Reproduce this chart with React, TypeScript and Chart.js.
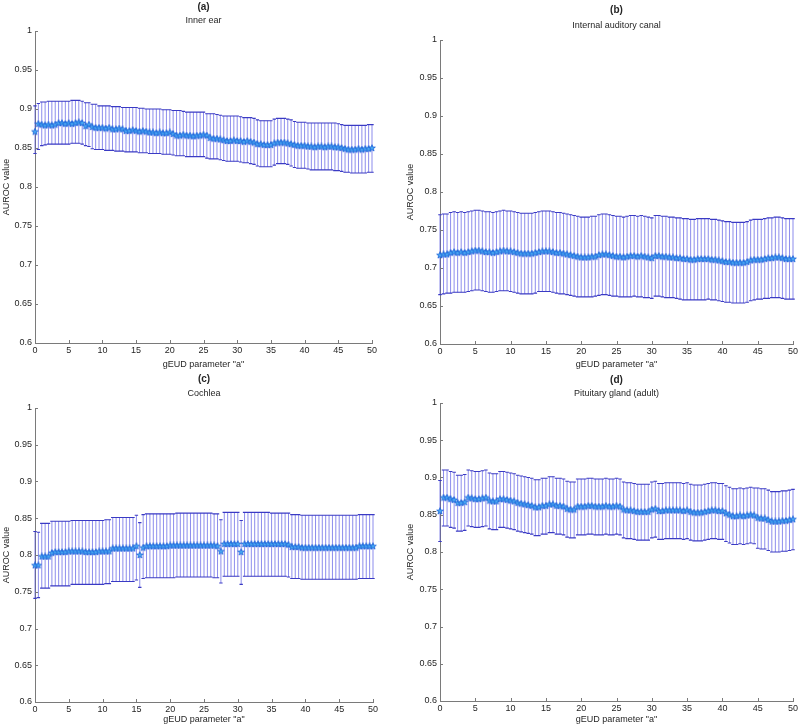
import React, { useEffect, useRef } from "react";
import { Chart, registerables } from "chart.js";

Chart.register(...registerables);

const FONT = "'Liberation Sans', Arial, Helvetica, sans-serif";
const TEXT = "#262626";
const AXIS = "#7a7a7a";
const BAR_COLOR = "rgba(70,70,225,0.62)";
const CAP_COLOR = "#3a3ac4";

// gEUD parameter "a"
const gEUD = [
  0, 0.5, 1, 1.5, 2, 2.5, 3, 3.5, 4, 4.5,
  5, 5.5, 6, 6.5, 7, 7.5, 8, 8.5, 9, 9.5,
  10, 10.5, 11, 11.5, 12, 12.5, 13, 13.5, 14, 14.5,
  15, 15.5, 16, 16.5, 17, 17.5, 18, 18.5, 19, 19.5,
  20, 20.5, 21, 21.5, 22, 22.5, 23, 23.5, 24, 24.5,
  25, 25.5, 26, 26.5, 27, 27.5, 28, 28.5, 29, 29.5,
  30, 30.5, 31, 31.5, 32, 32.5, 33, 33.5, 34, 34.5,
  35, 35.5, 36, 36.5, 37, 37.5, 38, 38.5, 39, 39.5,
  40, 40.5, 41, 41.5, 42, 42.5, 43, 43.5, 44, 44.5,
  45, 45.5, 46, 46.5, 47, 47.5, 48, 48.5, 49, 49.5,
  50,
];
const xTicks = [0, 5, 10, 15, 20, 25, 30, 35, 40, 45, 50];
const yTicks = [0.6, 0.65, 0.7, 0.75, 0.8, 0.85, 0.9, 0.95, 1];

// (a) Inner ear
const innerEarMean = [
  0.871, 0.881, 0.880, 0.879, 0.880, 0.879, 0.880, 0.882, 0.882, 0.881,
  0.882, 0.881, 0.882, 0.883, 0.882, 0.878, 0.880, 0.877, 0.876, 0.876,
  0.876, 0.875, 0.876, 0.874, 0.874, 0.875, 0.874, 0.872, 0.872, 0.873,
  0.872, 0.871, 0.872, 0.871, 0.870, 0.870, 0.869, 0.870, 0.869, 0.869,
  0.870, 0.868, 0.866, 0.866, 0.867, 0.866, 0.866, 0.865, 0.866, 0.866,
  0.867, 0.866, 0.863, 0.862, 0.862, 0.861, 0.860, 0.859, 0.859, 0.860,
  0.859, 0.859, 0.858, 0.859, 0.858, 0.857, 0.855, 0.855, 0.854, 0.854,
  0.854, 0.856, 0.857, 0.857, 0.857, 0.856, 0.855, 0.854, 0.853, 0.853,
  0.853, 0.852, 0.852, 0.851, 0.852, 0.852, 0.851, 0.852, 0.852, 0.851,
  0.851, 0.850, 0.849, 0.848, 0.848, 0.848, 0.849, 0.848, 0.849, 0.849,
  0.850,
];
const innerEarUpper = [
  0.904, 0.907, 0.909, 0.909, 0.910, 0.910, 0.910, 0.910, 0.910, 0.910,
  0.910, 0.911, 0.911, 0.911, 0.910, 0.908, 0.908, 0.906, 0.906, 0.904,
  0.904, 0.904, 0.904, 0.903, 0.903, 0.903, 0.902, 0.902, 0.902, 0.902,
  0.902, 0.901, 0.901, 0.900, 0.900, 0.900, 0.900, 0.900, 0.899, 0.899,
  0.899, 0.898, 0.898, 0.898, 0.897, 0.896, 0.896, 0.896, 0.896, 0.896,
  0.896, 0.894, 0.894, 0.894, 0.893, 0.892, 0.891, 0.891, 0.891, 0.891,
  0.891, 0.890, 0.889, 0.889, 0.889, 0.888, 0.886, 0.885, 0.885, 0.885,
  0.885, 0.887, 0.888, 0.888, 0.888, 0.887, 0.886, 0.884, 0.883, 0.883,
  0.883, 0.882, 0.882, 0.882, 0.882, 0.882, 0.882, 0.882, 0.882, 0.882,
  0.881, 0.880, 0.879, 0.879, 0.879, 0.879, 0.879, 0.879, 0.879, 0.880,
  0.880,
];
const innerEarLower = [
  0.843, 0.848, 0.853, 0.854, 0.855, 0.855, 0.855, 0.855, 0.855, 0.855,
  0.855, 0.856, 0.856, 0.856, 0.855, 0.853, 0.852, 0.849, 0.848, 0.848,
  0.848, 0.847, 0.847, 0.847, 0.846, 0.846, 0.846, 0.845, 0.845, 0.845,
  0.845, 0.844, 0.844, 0.844, 0.843, 0.843, 0.843, 0.843, 0.842, 0.842,
  0.842, 0.841, 0.840, 0.840, 0.840, 0.839, 0.839, 0.839, 0.839, 0.839,
  0.839, 0.837, 0.836, 0.836, 0.836, 0.835, 0.834, 0.833, 0.833, 0.833,
  0.833, 0.832, 0.831, 0.831, 0.830, 0.829, 0.827, 0.826, 0.826, 0.826,
  0.826, 0.828, 0.830, 0.830, 0.830, 0.829, 0.827, 0.825, 0.824, 0.824,
  0.824, 0.823, 0.822, 0.822, 0.822, 0.822, 0.822, 0.822, 0.822, 0.821,
  0.821, 0.820, 0.819, 0.819, 0.818, 0.818, 0.818, 0.818, 0.818, 0.819,
  0.819,
];

// (b) Internal auditory canal
const canalMean = [
  0.717, 0.718, 0.718, 0.720, 0.721, 0.720, 0.721, 0.720, 0.721, 0.722,
  0.723, 0.723, 0.722, 0.721, 0.721, 0.720, 0.721, 0.722, 0.723, 0.722,
  0.722, 0.721, 0.720, 0.719, 0.719, 0.719, 0.719, 0.720, 0.721, 0.722,
  0.722, 0.722, 0.721, 0.720, 0.720, 0.719, 0.718, 0.717, 0.716, 0.715,
  0.714, 0.714, 0.714, 0.715, 0.715, 0.717, 0.718, 0.718, 0.717, 0.716,
  0.715, 0.715, 0.714, 0.715, 0.716, 0.716, 0.715, 0.716, 0.715, 0.714,
  0.713, 0.716, 0.716, 0.715, 0.715, 0.714, 0.714, 0.713, 0.713, 0.712,
  0.712, 0.711, 0.711, 0.712, 0.712, 0.712, 0.712, 0.711, 0.711, 0.710,
  0.709, 0.708, 0.708, 0.707, 0.707, 0.707, 0.707, 0.708, 0.710, 0.711,
  0.711, 0.711, 0.712, 0.713, 0.713, 0.714, 0.714, 0.713, 0.712, 0.712,
  0.712,
];
const canalUpper = [
  0.770, 0.771, 0.771, 0.773, 0.774, 0.773, 0.774, 0.773, 0.774, 0.775,
  0.776, 0.776, 0.775, 0.774, 0.774, 0.773, 0.774, 0.775, 0.776, 0.775,
  0.775, 0.774, 0.773, 0.772, 0.772, 0.772, 0.772, 0.773, 0.774, 0.775,
  0.775, 0.775, 0.774, 0.773, 0.773, 0.772, 0.771, 0.770, 0.769, 0.768,
  0.767, 0.767, 0.767, 0.768, 0.768, 0.770, 0.771, 0.771, 0.770, 0.769,
  0.768, 0.768, 0.767, 0.768, 0.769, 0.769, 0.768, 0.769, 0.768, 0.767,
  0.766, 0.769, 0.769, 0.768, 0.768, 0.767, 0.767, 0.766, 0.766, 0.765,
  0.765, 0.764, 0.764, 0.765, 0.765, 0.765, 0.765, 0.764, 0.764, 0.763,
  0.762, 0.761, 0.761, 0.760, 0.760, 0.760, 0.760, 0.761, 0.763, 0.764,
  0.764, 0.764, 0.765, 0.766, 0.766, 0.767, 0.767, 0.766, 0.765, 0.765,
  0.765,
];
const canalLower = [
  0.665, 0.666, 0.667, 0.667, 0.668, 0.668, 0.668, 0.668, 0.669, 0.670,
  0.671, 0.671, 0.670, 0.669, 0.668, 0.668, 0.669, 0.670, 0.670, 0.670,
  0.669, 0.668, 0.667, 0.666, 0.666, 0.666, 0.666, 0.667, 0.669, 0.669,
  0.669, 0.669, 0.668, 0.667, 0.666, 0.666, 0.665, 0.664, 0.663, 0.662,
  0.662, 0.662, 0.662, 0.662, 0.663, 0.664, 0.665, 0.665, 0.664, 0.663,
  0.663, 0.662, 0.662, 0.662, 0.662, 0.663, 0.662, 0.662, 0.661, 0.661,
  0.660, 0.663, 0.663, 0.662, 0.661, 0.661, 0.661, 0.660, 0.659, 0.658,
  0.658, 0.658, 0.658, 0.658, 0.658, 0.658, 0.659, 0.658, 0.658, 0.657,
  0.656, 0.655, 0.655, 0.654, 0.654, 0.654, 0.654, 0.655, 0.657, 0.658,
  0.659, 0.659, 0.660, 0.660, 0.661, 0.661, 0.661, 0.660, 0.659, 0.659,
  0.659,
];

// (c) Cochlea
const cochleaMean = [
  0.786, 0.786, 0.798, 0.798, 0.798, 0.803, 0.804, 0.804, 0.804, 0.804,
  0.805, 0.805, 0.805, 0.805, 0.805, 0.804, 0.804, 0.804, 0.804, 0.805,
  0.805, 0.805, 0.805, 0.809, 0.809, 0.809, 0.809, 0.809, 0.809, 0.809,
  0.812, 0.800, 0.810, 0.812, 0.812, 0.812, 0.812, 0.812, 0.812, 0.812,
  0.813, 0.813, 0.813, 0.813, 0.813, 0.813, 0.813, 0.813, 0.813, 0.813,
  0.813, 0.813, 0.813, 0.813, 0.812, 0.805, 0.815, 0.815, 0.815, 0.815,
  0.815, 0.804, 0.815, 0.815, 0.815, 0.815, 0.815, 0.815, 0.815, 0.815,
  0.815, 0.815, 0.815, 0.815, 0.815, 0.814, 0.811, 0.811, 0.811, 0.810,
  0.810, 0.810, 0.810, 0.810, 0.810, 0.810, 0.810, 0.810, 0.810, 0.810,
  0.810, 0.810, 0.810, 0.810, 0.810, 0.810, 0.812, 0.812, 0.812, 0.812,
  0.812,
];
const cochleaUpper = [
  0.832, 0.831, 0.843, 0.843, 0.843, 0.846, 0.846, 0.846, 0.846, 0.846,
  0.846, 0.847, 0.847, 0.847, 0.847, 0.847, 0.847, 0.847, 0.847, 0.847,
  0.847, 0.848, 0.848, 0.851, 0.851, 0.851, 0.851, 0.851, 0.851, 0.851,
  0.854, 0.844, 0.855, 0.856, 0.856, 0.856, 0.856, 0.856, 0.856, 0.856,
  0.856, 0.856, 0.857, 0.857, 0.857, 0.857, 0.857, 0.857, 0.857, 0.857,
  0.857, 0.857, 0.857, 0.856, 0.856, 0.848, 0.858, 0.858, 0.858, 0.858,
  0.858, 0.847, 0.858, 0.858, 0.858, 0.858, 0.858, 0.858, 0.858, 0.858,
  0.857, 0.857, 0.857, 0.857, 0.857, 0.857, 0.855, 0.855, 0.855, 0.854,
  0.854, 0.854, 0.854, 0.854, 0.854, 0.854, 0.854, 0.854, 0.854, 0.854,
  0.854, 0.854, 0.854, 0.854, 0.854, 0.854, 0.855, 0.855, 0.855, 0.855,
  0.855,
];
const cochleaLower = [
  0.741, 0.742, 0.755, 0.755, 0.755, 0.758, 0.758, 0.758, 0.758, 0.758,
  0.758, 0.760, 0.760, 0.760, 0.760, 0.760, 0.760, 0.760, 0.760, 0.760,
  0.760, 0.761, 0.761, 0.764, 0.764, 0.764, 0.764, 0.764, 0.764, 0.764,
  0.766, 0.756, 0.768, 0.769, 0.769, 0.769, 0.769, 0.769, 0.769, 0.769,
  0.769, 0.769, 0.770, 0.770, 0.770, 0.770, 0.770, 0.770, 0.770, 0.770,
  0.770, 0.770, 0.770, 0.769, 0.769, 0.762, 0.771, 0.771, 0.771, 0.771,
  0.771, 0.760, 0.771, 0.771, 0.771, 0.771, 0.771, 0.771, 0.771, 0.771,
  0.771, 0.771, 0.771, 0.771, 0.771, 0.770, 0.768, 0.768, 0.768, 0.767,
  0.767, 0.767, 0.767, 0.767, 0.767, 0.767, 0.767, 0.767, 0.767, 0.767,
  0.767, 0.767, 0.767, 0.767, 0.767, 0.767, 0.768, 0.768, 0.768, 0.768,
  0.768,
];

// (d) Pituitary gland (adult)
const pituitaryMean = [
  0.855, 0.873, 0.873, 0.871, 0.870, 0.866, 0.866, 0.867, 0.873, 0.872,
  0.871, 0.871, 0.872, 0.873, 0.869, 0.868, 0.868, 0.871, 0.871, 0.870,
  0.869, 0.868, 0.866, 0.865, 0.864, 0.863, 0.862, 0.860, 0.860, 0.862,
  0.862, 0.864, 0.864, 0.862, 0.862, 0.861, 0.858, 0.857, 0.857, 0.861,
  0.861, 0.861, 0.862, 0.862, 0.861, 0.861, 0.861, 0.862, 0.861, 0.861,
  0.862, 0.861, 0.857, 0.856, 0.856, 0.855, 0.854, 0.854, 0.854, 0.854,
  0.857, 0.858, 0.855, 0.855, 0.856, 0.856, 0.856, 0.856, 0.856, 0.855,
  0.856, 0.854, 0.853, 0.853, 0.853, 0.854, 0.855, 0.856, 0.856, 0.855,
  0.855, 0.852, 0.850, 0.848, 0.848, 0.849, 0.848, 0.849, 0.850, 0.849,
  0.846, 0.845, 0.845, 0.843, 0.841, 0.841, 0.841, 0.842, 0.842, 0.843,
  0.844,
];
const pituitaryUpper = [
  0.896, 0.910, 0.910, 0.908, 0.907, 0.903, 0.903, 0.904, 0.910, 0.909,
  0.908, 0.908, 0.909, 0.910, 0.906, 0.905, 0.905, 0.908, 0.908, 0.907,
  0.906, 0.905, 0.903, 0.902, 0.901, 0.900, 0.899, 0.897, 0.897, 0.899,
  0.899, 0.901, 0.901, 0.899, 0.899, 0.898, 0.895, 0.894, 0.894, 0.898,
  0.898, 0.898, 0.899, 0.899, 0.898, 0.898, 0.898, 0.899, 0.898, 0.898,
  0.899, 0.898, 0.894, 0.893, 0.893, 0.892, 0.891, 0.891, 0.891, 0.891,
  0.894, 0.895, 0.892, 0.892, 0.893, 0.893, 0.893, 0.893, 0.893, 0.892,
  0.893, 0.891, 0.890, 0.890, 0.890, 0.891, 0.892, 0.893, 0.893, 0.892,
  0.892, 0.889, 0.887, 0.885, 0.885, 0.886, 0.885, 0.886, 0.887, 0.886,
  0.886, 0.885, 0.885, 0.883, 0.881, 0.881, 0.881, 0.882, 0.882, 0.883,
  0.884,
];
const pituitaryLower = [
  0.814, 0.835, 0.835, 0.833, 0.832, 0.828, 0.828, 0.829, 0.835, 0.834,
  0.833, 0.833, 0.834, 0.835, 0.831, 0.830, 0.830, 0.833, 0.833, 0.832,
  0.831, 0.830, 0.828, 0.827, 0.826, 0.825, 0.824, 0.822, 0.822, 0.824,
  0.824, 0.826, 0.826, 0.824, 0.824, 0.823, 0.820, 0.819, 0.819, 0.823,
  0.823, 0.823, 0.824, 0.824, 0.823, 0.823, 0.823, 0.824, 0.823, 0.823,
  0.824, 0.823, 0.819, 0.818, 0.818, 0.817, 0.816, 0.816, 0.816, 0.816,
  0.819, 0.820, 0.817, 0.817, 0.818, 0.818, 0.818, 0.818, 0.818, 0.817,
  0.818, 0.816, 0.815, 0.815, 0.815, 0.816, 0.817, 0.818, 0.818, 0.817,
  0.817, 0.814, 0.812, 0.810, 0.810, 0.811, 0.810, 0.811, 0.812, 0.811,
  0.805, 0.804, 0.804, 0.802, 0.800, 0.800, 0.800, 0.801, 0.801, 0.802,
  0.803,
];

type PanelSpec = {
  tag: string;
  name: string;
  mean: number[];
  lower: number[];
  upper: number[];
  left: number;
  top: number;
  w: number;
  h: number;
  padTop: number;
  padRight: number;
  yW: number;
  xH: number;
  yTitlePad: number;
  xTitlePad: number;
  tagY: number;
  nameY: number;
};

const panels: PanelSpec[] = [
  {
    tag: "(a)", name: "Inner ear",
    mean: innerEarMean, lower: innerEarLower, upper: innerEarUpper,
    left: 0, top: 0, w: 400, h: 372, padTop: 31, padRight: 28, yW: 35, xH: 29,
    yTitlePad: 1, xTitlePad: 2, tagY: 7, nameY: 21,
  },
  {
    tag: "(b)", name: "Internal auditory canal",
    mean: canalMean, lower: canalLower, upper: canalUpper,
    left: 400, top: 0, w: 399, h: 372, padTop: 40, padRight: 6, yW: 40, xH: 28,
    yTitlePad: 5, xTitlePad: 2, tagY: 10, nameY: 26,
  },
  {
    tag: "(c)", name: "Cochlea",
    mean: cochleaMean, lower: cochleaLower, upper: cochleaUpper,
    left: 0, top: 372, w: 400, h: 355, padTop: 36, padRight: 27, yW: 35, xH: 25,
    yTitlePad: 1, xTitlePad: 2, tagY: 7, nameY: 22,
  },
  {
    tag: "(d)", name: "Pituitary gland (adult)",
    mean: pituitaryMean, lower: pituitaryLower, upper: pituitaryUpper,
    left: 400, top: 372, w: 399, h: 355, padTop: 31, padRight: 6, yW: 40, xH: 26,
    yTitlePad: 5, xTitlePad: 2, tagY: 8, nameY: 22,
  },
];

let starImg: HTMLCanvasElement | null = null;
function getStar(): HTMLCanvasElement {
  if (starImg) return starImg;
  const c = document.createElement("canvas");
  c.width = 8;
  c.height = 8;
  const ctx = c.getContext("2d")!;
  const cx = 4, cy = 4.2, R = 3.5, r = 1.45;
  ctx.beginPath();
  for (let k = 0; k < 10; k++) {
    const ang = -Math.PI / 2 + (k * Math.PI) / 5;
    const rad = k % 2 === 0 ? R : r;
    const px = cx + rad * Math.cos(ang);
    const py = cy + rad * Math.sin(ang);
    if (k === 0) ctx.moveTo(px, py);
    else ctx.lineTo(px, py);
  }
  ctx.closePath();
  ctx.fillStyle = "#49aaf3";
  ctx.fill();
  ctx.strokeStyle = "#1b62d8";
  ctx.lineWidth = 0.8;
  ctx.stroke();
  starImg = c;
  return c;
}

function PanelChart({ p }: { p: PanelSpec }) {
  const ref = useRef<HTMLCanvasElement>(null);

  useEffect(() => {
    const canvas = ref.current;
    if (!canvas) return;

    const errorBars = {
      id: "errorBars",
      beforeDatasetsDraw(chart: any) {
        const { ctx } = chart;
        const xs = chart.scales.x;
        const ys = chart.scales.y;
        const half = Math.abs(xs.getPixelForValue(0.25) - xs.getPixelForValue(0));
        ctx.save();
        ctx.lineWidth = 1;
        ctx.strokeStyle = BAR_COLOR;
        ctx.beginPath();
        gEUD.forEach((g, i) => {
          const px = xs.getPixelForValue(g);
          ctx.moveTo(px, ys.getPixelForValue(p.lower[i]));
          ctx.lineTo(px, ys.getPixelForValue(p.upper[i]));
        });
        ctx.stroke();
        ctx.strokeStyle = CAP_COLOR;
        ctx.lineWidth = 1.1;
        ctx.beginPath();
        gEUD.forEach((g, i) => {
          const px = xs.getPixelForValue(g);
          const pl = ys.getPixelForValue(p.lower[i]);
          const pu = ys.getPixelForValue(p.upper[i]);
          ctx.moveTo(px - half, pl);
          ctx.lineTo(px + half, pl);
          ctx.moveTo(px - half, pu);
          ctx.lineTo(px + half, pu);
        });
        ctx.stroke();
        ctx.restore();
      },
    };

    const decor = {
      id: "decor",
      afterDraw(chart: any) {
        const { ctx, chartArea } = chart;
        const xs = chart.scales.x;
        const ys = chart.scales.y;
        ctx.save();
        ctx.strokeStyle = AXIS;
        ctx.lineWidth = 1;
        ctx.beginPath();
        yTicks.forEach((v) => {
          const py = Math.round(ys.getPixelForValue(v)) + 0.5;
          ctx.moveTo(chartArea.left, py);
          ctx.lineTo(chartArea.left + 3, py);
        });
        xTicks.forEach((v) => {
          const px = Math.round(xs.getPixelForValue(v)) + 0.5;
          ctx.moveTo(px, chartArea.bottom);
          ctx.lineTo(px, chartArea.bottom - 3);
        });
        ctx.stroke();
        const cx = (chartArea.left + chartArea.right) / 2;
        ctx.fillStyle = TEXT;
        ctx.textAlign = "center";
        ctx.textBaseline = "middle";
        ctx.font = `bold 10px ${FONT}`;
        ctx.fillText(p.tag, cx, p.tagY);
        ctx.font = `9px ${FONT}`;
        ctx.fillText(p.name, cx, p.nameY);
        ctx.restore();
      },
    };

    const zeroPad = (s: any) => {
      s.paddingLeft = 0;
      s.paddingRight = 0;
      s.paddingTop = 0;
      s.paddingBottom = 0;
    };

    const chart = new Chart(canvas, {
      type: "scatter",
      data: {
        datasets: [
          {
            data: gEUD.map((g, i) => ({ x: g, y: p.mean[i] })),
            pointStyle: getStar() as any,
            pointRadius: 3.5,
            showLine: false,
            clip: false as any,
          },
        ],
      },
      options: {
        responsive: false,
        maintainAspectRatio: false,
        animation: false,
        devicePixelRatio: 1,
        layout: { padding: { top: p.padTop, right: p.padRight, left: 0, bottom: 0 } },
        plugins: {
          legend: { display: false },
          tooltip: { enabled: false },
          title: { display: false },
        },
        scales: {
          x: {
            type: "linear",
            min: 0,
            max: 50,
            afterBuildTicks: (s: any) => {
              s.ticks = xTicks.map((v) => ({ value: v }));
            },
            afterFit: (s: any) => {
              s.height = p.xH;
              zeroPad(s);
            },
            grid: { display: false, drawTicks: false },
            border: { display: true, color: AXIS, width: 1 },
            ticks: {
              color: TEXT,
              font: { family: FONT, size: 9 },
              padding: 2,
              maxRotation: 0,
              autoSkip: false,
              callback: (v: any) => String(v),
            },
            title: {
              display: true,
              text: 'gEUD parameter "a"',
              color: TEXT,
              font: { family: FONT, size: 9 },
              padding: { top: 0, bottom: p.xTitlePad },
            },
          },
          y: {
            type: "linear",
            min: 0.6,
            max: 1,
            afterBuildTicks: (s: any) => {
              s.ticks = yTicks.map((v) => ({ value: v }));
            },
            afterFit: (s: any) => {
              s.width = p.yW;
              zeroPad(s);
            },
            grid: { display: false, drawTicks: false },
            border: { display: true, color: AXIS, width: 1 },
            ticks: {
              color: TEXT,
              font: { family: FONT, size: 9 },
              padding: 3,
              autoSkip: false,
              callback: (v: any) => String(Math.round(Number(v) * 100) / 100),
            },
            title: {
              display: true,
              text: "AUROC value",
              color: TEXT,
              font: { family: FONT, size: 9 },
              padding: { top: p.yTitlePad, bottom: 0 },
            },
          },
        },
      },
      plugins: [errorBars, decor],
    });

    return () => chart.destroy();
  }, [p]);

  return (
    <canvas
      ref={ref}
      width={p.w}
      height={p.h}
      style={{ position: "absolute", left: p.left, top: p.top, width: p.w, height: p.h }}
    />
  );
}

export default function App() {
  return (
    <div
      style={{
        position: "absolute",
        left: 0,
        top: 0,
        width: 799,
        height: 727,
        background: "#ffffff",
        overflow: "hidden",
      }}
    >
      {panels.map((p) => (
        <PanelChart key={p.tag} p={p} />
      ))}
    </div>
  );
}
